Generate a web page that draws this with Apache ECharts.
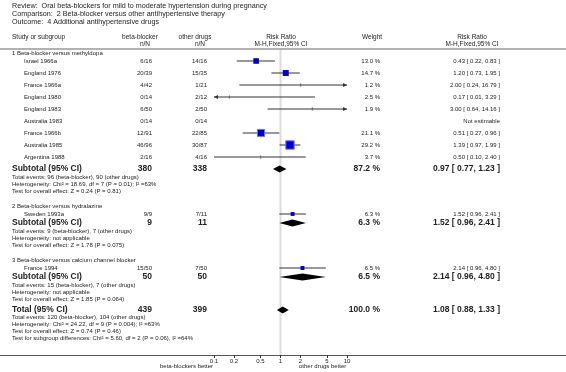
<!DOCTYPE html>
<html>
<head>
<meta charset="utf-8">
<script src="https://cdn.jsdelivr.net/npm/echarts@6/dist/echarts.min.js"></script>
<style>
  html, body { margin: 0; padding: 0; background: #fff; }
  #main { width: 566px; height: 372px; }
</style>
</head>
<body>
<div id="main"></div>
<script>
// --- data ---
var headerLines = [
    'Review:  Oral beta-blockers for mild to moderate hypertension during pregnancy',
    'Comparison:  2 Beta-blocker versus other antihypertensive therapy',
    'Outcome:  4 Additional antihypertensive drugs'
];
var groupNames = [
    '1 Beta-blocker versus methyldopa',
    '2 Beta-blocker versus hydralazine',
    '3 Beta-blocker versus calcium channel blocker'
];
var studyNames = ['Israel 1966a', 'England 1976', 'France 1966a', 'England 1980', 'England 1983',
    'Australia 1983', 'France 1966b', 'Australia 1985', 'Argentina 1988', 'Sweden 1993a', 'France 1994'];
var studyGroup = [0, 0, 0, 0, 0, 0, 0, 0, 0, 1, 2];
var bbEvents = [6, 20, 4, 0, 6, 0, 12, 46, 2, 9, 15];
var bbTotal = [16, 39, 42, 14, 50, 14, 91, 96, 16, 9, 50];
var odEvents = [14, 15, 1, 2, 2, 0, 22, 30, 4, 7, 7];
var odTotal = [16, 35, 21, 12, 50, 14, 85, 87, 16, 11, 50];
var weights = [13.0, 14.7, 1.2, 2.5, 1.9, null, 21.1, 29.2, 3.7, 6.3, 6.5];
var rr = [0.43, 1.20, 2.00, 0.17, 3.00, null, 0.51, 1.39, 0.50, 1.52, 2.14];
var rrLow = [0.22, 0.73, 0.24, 0.01, 0.64, null, 0.27, 0.97, 0.10, 0.96, 0.96];
var rrHigh = [0.83, 1.95, 16.79, 3.29, 14.16, null, 0.96, 1.99, 2.40, 2.41, 4.80];

var subBbTotal = [380, 9, 50];
var subOdTotal = [338, 11, 50];
var subWeight = [87.2, 6.3, 6.5];
var subRR = [0.97, 1.52, 2.14];
var subLow = [0.77, 0.96, 0.96];
var subHigh = [1.23, 2.41, 4.80];
var subStats = [
    ['Total events: 96 (beta-blocker), 90 (other drugs)',
     'Heterogeneity: Chi\u00b2 = 18.69, df = 7 (P = 0.01); I\u00b2 =63%',
     'Test for overall effect: Z = 0.24 (P = 0.81)'],
    ['Total events: 9 (beta-blocker), 7 (other drugs)',
     'Heterogeneity: not applicable',
     'Test for overall effect: Z = 1.78 (P = 0.075)'],
    ['Total events: 15 (beta-blocker), 7 (other drugs)',
     'Heterogeneity: not applicable',
     'Test for overall effect: Z = 1.85 (P = 0.064)']
];
var totalBb = 439, totalOd = 399, totalWeight = 100.0;
var totalRR = 1.08, totalLow = 0.88, totalHigh = 1.33;
var totalStats = [
    'Total events: 120 (beta-blocker), 104 (other drugs)',
    'Heterogeneity: Chi\u00b2 = 24.22, df = 9 (P = 0.004); I\u00b2 =63%',
    'Test for overall effect: Z = 0.74 (P = 0.46)',
    'Test for subgroup differences: Chi\u00b2 = 5.60, df = 2 (P = 0.06), I\u00b2 =64%'
];
var tickValues = [0.1, 0.2, 0.5, 1, 2, 5, 10];
var favourLeft = 'beta-blockers better';
var favourRight = 'other drugs better';

// --- layout ---
var FONT = '"Liberation Sans", Arial, sans-serif';
var AXIS_Y = 355;       // pixel row of the bottom axis line
var TOP_Y = 50;         // where the forest area starts
var X_MIN = 0.1, X_MAX = 10;
var BOLD = 8.5;
var col = { left: 12, indent: 24, bb: 152, od: 207, weight: 380, ci: 500 };

var texts = [];   // {x, y, text, align, size, bold}
var marks = [];   // {y, est, lo, hi, w, kind}

function txt(x, y, text, align, size, bold) {
    texts.push({x: x, y: y, text: text, align: align || 'left', size: size || 6, bold: !!bold});
}
function ciText(v, lo, hi) {
    return v.toFixed(2) + ' [ ' + lo.toFixed(2) + ', ' + hi.toFixed(2) + ' ]';
}
function summaryRow(y, label, nb, no, w, v, lo, hi) {
    txt(col.left, y, label, 'left', BOLD, true);
    txt(col.bb, y, String(nb), 'right', BOLD, true);
    txt(col.od, y, String(no), 'right', BOLD, true);
    txt(col.weight, y, w.toFixed(1) + ' %', 'right', BOLD, true);
    txt(col.ci, y, ciText(v, lo, hi), 'right', BOLD, true);
    marks.push({y: y, est: v, lo: lo, hi: hi, kind: 'diamond'});
}

headerLines.forEach(function (s, i) { txt(col.left, 6 + i * 8, s, 'left', 7.2); });
txt(col.left, 37, 'Study or subgroup', 'left', 6.5);
txt(140, 37, 'beta-blocker', 'center', 6.5);
txt(145, 44, 'n/N', 'center', 6.5);
txt(195, 37, 'other drugs', 'center', 6.5);
txt(200, 44, 'n/N', 'center', 6.5);
txt(281, 37, 'Risk Ratio', 'center', 6.5);
txt(281, 44, 'M-H,Fixed,95% CI', 'center', 6.5);
txt(362, 37, 'Weight', 'left', 6.5);
txt(472, 37, 'Risk Ratio', 'center', 6.5);
txt(472, 44, 'M-H,Fixed,95% CI', 'center', 6.5);

var y = 53;
groupNames.forEach(function (g, gi) {
    if (gi > 0) y += 15;
    txt(col.left, y, g, 'left', 6);
    y += 8;
    var count = 0;
    studyNames.forEach(function (name, i) {
        if (studyGroup[i] !== gi) return;
        if (count > 0) y += 12;
        count++;
        txt(col.indent, y, name, 'left', 6);
        txt(col.bb, y, bbEvents[i] + '/' + bbTotal[i], 'right', 6);
        txt(col.od, y, odEvents[i] + '/' + odTotal[i], 'right', 6);
        if (rr[i] == null) {
            txt(col.ci, y, 'Not estimable', 'right', 6);
        } else {
            txt(col.weight, y, weights[i].toFixed(1) + ' %', 'right', 6);
            txt(col.ci, y, ciText(rr[i], rrLow[i], rrHigh[i]), 'right', 6);
            marks.push({y: y, est: rr[i], lo: rrLow[i], hi: rrHigh[i], w: weights[i], kind: 'study'});
        }
    });
    y += count > 1 ? 12 : 9;
    summaryRow(y, 'Subtotal (95% CI)', subBbTotal[gi], subOdTotal[gi], subWeight[gi], subRR[gi], subLow[gi], subHigh[gi]);
    y += 8;
    subStats[gi].forEach(function (s, k) {
        if (k > 0) y += 7;
        txt(col.left, y, s, 'left', 6);
    });
});
y += 11;
summaryRow(y, 'Total (95% CI)', totalBb, totalOd, totalWeight, totalRR, totalLow, totalHigh);
y += 7;
totalStats.forEach(function (s, k) {
    if (k > 0) y += 7;
    txt(col.left, y, s, 'left', 6);
});
txt(213, 366, favourLeft, 'right', 6);
txt(299, 366, favourRight, 'left', 6);

// --- chart ---
var chart = echarts.init(document.getElementById('main'));

function renderText(params, api) {
    var t = texts[params.dataIndex];
    var p = api.coord([t.x, t.y]);
    return {
        type: 'text',
        x: p[0], y: p[1],
        style: {
            text: t.text,
            fill: '#222',
            align: t.align,
            verticalAlign: 'middle',
            font: (t.bold ? 'bold ' : '') + t.size + 'px ' + FONT
        }
    };
}

function renderMark(params, api) {
    var m = marks[params.dataIndex];
    var lo = Math.max(m.lo, X_MIN), hi = Math.min(m.hi, X_MAX);
    var pl = api.coord([lo, m.y]), ph = api.coord([hi, m.y]), pe = api.coord([m.est, m.y]);
    var yy = pe[1];
    var children = [];
    if (m.kind === 'diamond') {
        children.push({
            type: 'polygon',
            shape: {points: [[pl[0], yy], [pe[0], yy - 3.5], [ph[0], yy], [pe[0], yy + 3.5]]},
            style: {fill: '#000'}
        });
        return {type: 'group', children: children};
    }
    children.push({
        type: 'line',
        shape: {x1: pl[0], y1: yy, x2: ph[0], y2: yy},
        style: {stroke: '#333', lineWidth: 1}
    });
    if (m.lo < X_MIN) {
        children.push({type: 'polygon', shape: {points: [[pl[0], yy], [pl[0] + 4, yy - 2], [pl[0] + 4, yy + 2]]}, style: {fill: '#333'}});
    }
    if (m.hi > X_MAX) {
        children.push({type: 'polygon', shape: {points: [[ph[0], yy], [ph[0] - 4, yy - 2], [ph[0] - 4, yy + 2]]}, style: {fill: '#333'}});
    }
    if (m.w < 5) {
        // very light studies: only a small tick at the estimate
        children.push({
            type: 'rect',
            shape: {x: pe[0] - 0.5, y: yy - 1.5, width: 1.2, height: 3},
            style: {fill: '#666'}
        });
    } else {
        var s = Math.sqrt(m.w) * 1.55;
        children.push({
            type: 'rect',
            shape: {x: pe[0] - s / 2, y: yy - s / 2, width: s, height: s},
            style: {fill: '#0000cc', stroke: m.w > 20 ? '#6f6fff' : null, lineWidth: 1}
        });
    }
    return {type: 'group', children: children};
}

var option = {
    animation: false,
    backgroundColor: '#fff',
    grid: [
        {left: 0, right: 0, top: 0, bottom: 372 - AXIS_Y},
        {left: 214, width: 133, top: TOP_Y, bottom: 372 - AXIS_Y}
    ],
    xAxis: [
        {
            gridIndex: 0, type: 'value', min: 0, max: 566,
            axisLine: {show: true, onZero: false, lineStyle: {color: '#555', width: 1}},
            axisTick: {show: false}, axisLabel: {show: false}, splitLine: {show: false}
        },
        {
            gridIndex: 1, type: 'log', logBase: 10, min: X_MIN, max: X_MAX,
            axisLine: {show: false, onZero: false},
            axisTick: {show: true, customValues: tickValues, length: 3, lineStyle: {color: '#333'}},
            axisLabel: {
                show: true, customValues: tickValues, margin: 3,
                fontSize: 6, fontFamily: FONT, color: '#222',
                formatter: function (v) { return String(v); }
            },
            splitLine: {show: false}, minorTick: {show: false}
        }
    ],
    yAxis: [
        {gridIndex: 0, type: 'value', min: 0, max: AXIS_Y, inverse: true, show: false},
        {gridIndex: 1, type: 'value', min: TOP_Y, max: AXIS_Y, inverse: true, show: false}
    ],
    series: [
        {
            // line of no effect at RR = 1
            type: 'custom', xAxisIndex: 1, yAxisIndex: 1, silent: true,
            data: [[1, TOP_Y]],
            renderItem: function (params, api) {
                var a = api.coord([1, TOP_Y]), b = api.coord([1, AXIS_Y]);
                return {type: 'line', shape: {x1: a[0], y1: a[1], x2: b[0], y2: b[1]}, style: {stroke: '#dcdcdc', lineWidth: 2}};
            },
            z: 1
        },
        {
            type: 'custom', xAxisIndex: 0, yAxisIndex: 0, silent: true,
            data: [[0, 49]],
            renderItem: function (params, api) {
                var a = api.coord([0, 49]), b = api.coord([566, 49]);
                return {type: 'line', shape: {x1: a[0], y1: a[1], x2: b[0], y2: b[1]}, style: {stroke: '#999', lineWidth: 1.5}};
            },
            z: 2
        },
        {
            type: 'custom', xAxisIndex: 1, yAxisIndex: 1, silent: true, clip: false,
            data: marks.map(function (m) { return [m.est, m.y]; }),
            renderItem: renderMark,
            z: 3
        },
        {
            type: 'custom', xAxisIndex: 0, yAxisIndex: 0, silent: true,
            data: texts.map(function (t) { return [t.x, t.y]; }),
            renderItem: renderText,
            z: 4
        }
    ]
};
chart.setOption(option);
</script>
</body>
</html>
